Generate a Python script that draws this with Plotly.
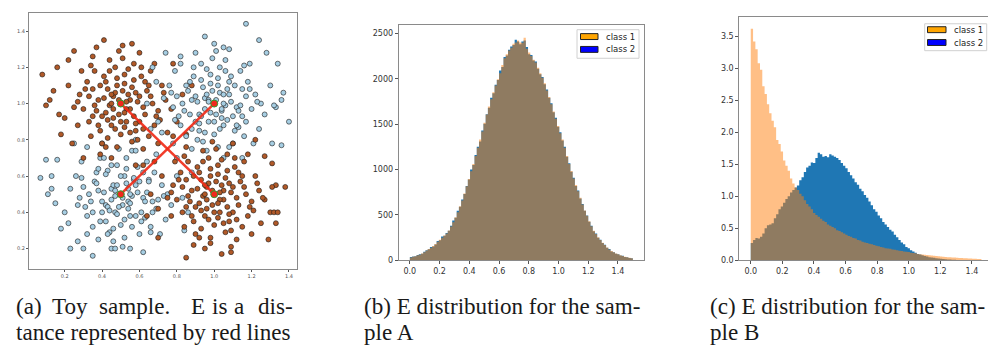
import numpy as np
import plotly.graph_objects as go

W, H = 996, 352

# ---------------- Panel (a): toy sample ----------------
class1_top_left = [
    (0.50,1.00),(0.46,1.04),(0.55,0.97),(0.42,0.95),(0.58,1.06),(0.48,1.10),(0.53,0.90),(0.38,1.02),(0.62,0.98),(0.45,0.88),
    (0.57,1.13),(0.35,1.08),(0.66,1.04),(0.50,0.83),(0.41,1.15),(0.60,0.90),(0.30,0.97),(0.70,0.96),(0.47,1.20),(0.54,1.05),
    (0.44,0.99),(0.52,1.16),(0.33,0.90),(0.63,1.12),(0.39,0.85),(0.68,0.88),(0.56,0.79),(0.28,1.05),(0.74,1.02),(0.49,0.94),
    (0.43,1.08),(0.59,1.01),(0.36,1.18),(0.65,0.82),(0.51,1.25),(0.27,0.88),(0.72,1.10),(0.40,0.78),(0.61,1.20),(0.46,0.92),
    (0.55,1.02),(0.32,1.12),(0.69,0.93),(0.48,0.76),(0.58,0.85),(0.25,0.98),(0.77,0.97),(0.44,1.24),(0.37,0.96),(0.64,1.07),
    (0.53,0.97),(0.41,1.03),(0.47,1.06),(0.57,0.93),(0.34,0.82),(0.80,0.90),(0.22,1.10),(0.62,0.75),(0.45,0.70),(0.35,1.26),
    (0.66,1.18),(0.52,0.87),(0.29,1.18),(0.75,0.84),(0.43,0.81),(0.60,1.28),(0.20,0.92),(0.83,1.05),(0.39,0.72),(0.70,0.78),
    (0.41,1.35),(0.37,1.31),(0.51,1.32),(0.56,1.33),(0.08,1.16),(0.10,0.99),(0.12,1.02),(0.17,0.94),(0.18,0.83),(0.25,1.29),
    (0.16,1.20),(0.24,0.78),(0.30,0.70),(0.85,0.83),(0.78,1.22),(0.68,0.68),(0.58,0.66),(0.14,1.07),(0.22,1.24),(0.88,1.10),
    (0.49,1.02),(0.52,0.95),(0.45,1.00),(0.56,1.09),(0.43,0.91),(0.60,1.04),(0.39,1.10),(0.51,1.07),(0.47,0.86),(0.63,0.94),
    (0.36,0.99),(0.54,1.19),(0.42,1.12),(0.58,0.89),(0.33,1.04),(0.67,1.00),(0.48,1.14),(0.55,0.84),(0.40,0.93),(0.61,1.15),
    (0.46,0.97),(0.53,1.01),(0.38,0.88),(0.65,1.10),(0.31,1.08),(0.71,0.91),(0.50,0.90),(0.44,1.18),(0.57,1.22),(0.35,0.93),
    (0.62,0.86),(0.49,1.29),(0.27,1.01),(0.73,1.06),(0.42,0.76),(0.59,0.80),(0.34,1.21),(0.68,1.22),(0.52,1.11),(0.45,1.05),
]
class1_bottom_right = [
    (1.00,0.50),(0.96,0.54),(1.05,0.47),(0.92,0.45),(1.08,0.56),(0.98,0.60),(1.03,0.40),(0.88,0.52),(1.12,0.48),(0.95,0.38),
    (1.07,0.63),(0.85,0.58),(1.16,0.54),(1.00,0.33),(0.91,0.65),(1.10,0.40),(0.80,0.47),(1.20,0.46),(0.97,0.70),(1.04,0.55),
    (0.94,0.49),(1.02,0.66),(0.83,0.40),(1.13,0.62),(0.89,0.35),(1.18,0.38),(1.06,0.29),(0.78,0.55),(1.24,0.52),(0.99,0.44),
    (0.93,0.58),(1.09,0.51),(0.86,0.68),(1.15,0.32),(1.01,0.75),(0.77,0.38),(1.22,0.60),(0.90,0.28),(1.11,0.70),(0.96,0.42),
    (1.05,0.52),(0.82,0.62),(1.19,0.43),(0.98,0.26),(1.08,0.35),(0.75,0.48),(1.27,0.47),(0.94,0.74),(0.87,0.46),(1.14,0.57),
    (1.03,0.47),(0.91,0.53),(0.97,0.56),(1.07,0.43),(0.84,0.32),(1.30,0.40),(0.72,0.60),(1.12,0.25),(0.95,0.20),(0.85,0.76),
    (1.16,0.68),(1.02,0.37),(0.79,0.68),(1.25,0.34),(0.93,0.31),(1.10,0.78),(0.70,0.42),(1.33,0.55),(0.89,0.22),(1.20,0.28),
    (0.85,0.15),(1.09,0.18),(0.98,0.23),(1.38,0.54),(1.33,0.34),(1.32,0.40),(1.34,0.40),(1.31,0.54),(1.27,0.71),(1.31,0.67),
    (1.26,0.48),(1.09,0.21),(0.66,0.50),(0.64,0.38),(0.70,0.26),(1.22,0.80),(0.78,0.82),(1.04,0.17),(1.29,0.25),(0.62,0.66),
    (0.99,0.52),(1.02,0.45),(0.95,0.50),(1.06,0.59),(0.93,0.41),(1.10,0.54),(0.89,0.60),(1.01,0.57),(0.97,0.36),(1.13,0.44),
    (0.86,0.49),(1.04,0.69),(0.92,0.62),(1.08,0.39),(0.83,0.54),(1.17,0.50),(0.98,0.64),(1.05,0.34),(0.90,0.43),(1.11,0.65),
    (0.96,0.47),(1.03,0.51),(0.88,0.38),(1.15,0.60),(0.81,0.58),(1.21,0.41),(1.00,0.40),(0.94,0.68),(1.07,0.72),(0.85,0.43),
    (1.12,0.36),(0.99,0.79),(0.77,0.51),(1.23,0.56),(0.92,0.26),(1.09,0.30),(0.84,0.71),(1.18,0.72),(1.02,0.61),(0.95,0.55),
]
class2_top_right = [
    (1.00,1.00),(1.04,0.96),(0.95,1.03),(1.08,1.05),(0.92,0.94),(1.02,1.10),(0.97,0.90),(1.12,0.98),(0.88,1.02),(1.05,0.88),
    (0.93,1.13),(1.15,1.08),(0.84,0.96),(1.00,0.83),(1.09,1.15),(0.90,0.90),(1.20,0.97),(0.80,1.04),(1.03,1.20),(0.96,1.05),
    (1.06,0.99),(0.98,1.16),(1.17,0.90),(0.87,1.12),(1.11,0.85),(0.82,0.88),(0.94,0.79),(1.22,1.05),(0.78,0.98),(1.01,0.94),
    (1.07,1.08),(0.91,1.01),(1.14,1.18),(0.85,0.82),(1.25,1.00),(0.99,1.25),(0.76,1.10),(1.10,0.78),(0.89,1.20),(1.04,0.92),
    (0.95,0.97),(1.18,1.12),(0.81,0.93),(1.02,0.76),(0.92,0.85),(1.27,0.94),(0.73,1.03),(1.06,1.24),(1.13,0.96),(0.86,1.07),
    (0.97,1.02),(1.09,1.01),(1.03,1.06),(0.93,0.93),(1.16,0.82),(0.70,0.90),(1.30,1.10),(0.88,0.75),(1.05,0.70),(1.19,1.22),
    (0.79,1.18),(1.13,0.87),(0.82,1.26),(1.24,0.86),(0.96,0.74),(1.08,1.30),(0.72,0.84),(1.33,0.98),(0.90,1.28),(1.21,0.78),
    (1.17,1.44),(1.00,1.33),(1.05,1.31),(1.34,1.22),(1.37,1.06),(1.36,1.02),(1.32,0.99),(1.36,0.77),(1.31,0.78),(0.67,1.20),
    (0.64,1.00),(0.66,0.86),(1.28,1.28),(0.95,1.37),(1.24,1.35),(0.74,1.28),(1.40,0.90),(0.69,1.12),(0.80,0.70),(1.15,0.70),
    (1.01,1.02),(0.98,0.95),(1.05,1.00),(0.94,1.09),(1.07,0.91),(0.90,1.04),(1.11,1.10),(0.99,1.07),(1.03,0.86),(0.87,0.94),
    (1.14,0.99),(0.96,1.19),(1.08,1.12),(0.92,0.89),(1.17,1.04),(0.83,1.00),(1.02,1.14),(0.95,0.84),(1.10,0.93),(0.89,1.15),
    (1.04,0.97),(0.97,1.01),(1.12,0.88),(0.85,1.10),(1.19,1.08),(0.79,0.91),(1.00,0.90),(1.06,1.18),(0.93,1.22),(1.15,0.93),
    (0.88,0.86),(1.01,1.29),(1.23,1.01),(0.77,1.06),(1.08,0.76),(0.91,0.80),(1.16,1.21),(0.82,1.22),(0.98,1.11),(1.05,1.05),
]
class2_bottom_left = [
    (0.50,0.50),(0.54,0.46),(0.45,0.53),(0.58,0.55),(0.42,0.44),(0.52,0.60),(0.47,0.40),(0.62,0.48),(0.38,0.52),(0.55,0.38),
    (0.43,0.63),(0.65,0.58),(0.34,0.46),(0.50,0.33),(0.59,0.65),(0.40,0.40),(0.70,0.47),(0.30,0.54),(0.53,0.70),(0.46,0.55),
    (0.56,0.49),(0.48,0.66),(0.67,0.40),(0.37,0.62),(0.61,0.35),(0.32,0.38),(0.44,0.29),(0.72,0.55),(0.28,0.48),(0.51,0.44),
    (0.57,0.58),(0.41,0.51),(0.64,0.68),(0.35,0.32),(0.75,0.50),(0.49,0.75),(0.26,0.60),(0.60,0.28),(0.39,0.70),(0.54,0.42),
    (0.45,0.47),(0.68,0.62),(0.31,0.43),(0.52,0.26),(0.42,0.35),(0.77,0.44),(0.23,0.53),(0.56,0.74),(0.63,0.46),(0.36,0.57),
    (0.47,0.52),(0.59,0.51),(0.53,0.56),(0.43,0.43),(0.66,0.32),(0.20,0.40),(0.80,0.60),(0.38,0.25),(0.55,0.20),(0.69,0.72),
    (0.29,0.68),(0.63,0.37),(0.32,0.76),(0.74,0.36),(0.46,0.24),(0.58,0.80),(0.22,0.34),(0.83,0.48),(0.40,0.78),(0.71,0.28),
    (0.10,0.69),(0.16,0.69),(0.07,0.59),(0.13,0.53),(0.13,0.60),(0.18,0.31),(0.23,0.20),(0.27,0.24),(0.45,0.20),(0.47,0.20),
    (0.15,0.45),(0.30,0.20),(0.86,0.40),(0.88,0.62),(0.25,0.78),(0.62,0.18),(0.78,0.78),(0.11,0.50),(0.35,0.16),(0.84,0.30),
    (0.51,0.48),(0.48,0.55),(0.55,0.50),(0.44,0.41),(0.57,0.59),(0.40,0.46),(0.61,0.40),(0.49,0.43),(0.53,0.64),(0.37,0.56),
    (0.64,0.51),(0.46,0.31),(0.58,0.38),(0.42,0.61),(0.67,0.46),(0.33,0.50),(0.52,0.36),(0.45,0.66),(0.60,0.57),(0.39,0.35),
    (0.54,0.53),(0.47,0.49),(0.62,0.62),(0.35,0.40),(0.69,0.42),(0.29,0.59),(0.50,0.60),(0.56,0.32),(0.43,0.28),(0.65,0.57),
    (0.38,0.64),(0.51,0.21),(0.73,0.49),(0.27,0.44),(0.58,0.74),(0.41,0.70),(0.66,0.29),(0.32,0.28),(0.48,0.39),(0.55,0.45),
]
distance_line_1_x = [0.5, 1.0]
distance_line_1_y = [1.0, 0.5]
distance_line_2_x = [0.5, 1.0]
distance_line_2_y = [0.5, 1.0]
toy_ticks = [0.2, 0.4, 0.6, 0.8, 1.0, 1.2, 1.4]

# ---------------- Panel (b): sample A, counts ----------------
hist_b_start, hist_b_end = 0.0, 1.5
hist_b_class1 = [
    32, 40, 46, 55, 62, 75, 90, 108, 125, 140,
    158, 180, 205, 228, 250, 275, 295, 330, 372, 420,
    475, 530, 595, 660, 735, 815, 895, 980, 1060, 1150,
    1240, 1330, 1420, 1515, 1605, 1695, 1775, 1850, 1925, 1995,
    2060, 2150, 2225, 2270, 2310, 2340, 2385, 2400, 2420, 2400,
    2395, 2450, 2330, 2290, 2250, 2210, 2180, 2120, 2060, 2010,
    1950, 1870, 1800, 1720, 1640, 1560, 1480, 1400, 1330, 1240,
    1150, 1060, 985, 900, 830, 760, 690, 615, 550, 490,
    430, 375, 325, 290, 255, 225, 195, 168, 142, 120,
    102, 88, 76, 66, 56, 48, 40, 34, 28, 22,
]
hist_b_class2 = [
    36, 42, 44, 58, 66, 72, 95, 112, 122, 146,
    152, 176, 214, 222, 262, 270, 300, 325, 380, 440,
    470, 545, 590, 670, 730, 820, 890, 1000, 1050, 1160,
    1250, 1310, 1430, 1505, 1610, 1680, 1790, 1840, 1935, 1985,
    2090, 2130, 2240, 2255, 2320, 2355, 2370, 2430, 2410, 2380,
    2410, 2420, 2350, 2270, 2260, 2200, 2190, 2110, 2050, 2020,
    1940, 1880, 1790, 1730, 1630, 1570, 1470, 1410, 1320, 1250,
    1140, 1070, 975, 910, 820, 770, 680, 620, 545, 495,
    425, 380, 320, 295, 250, 228, 190, 172, 138, 124,
    98, 90, 74, 68, 54, 50, 38, 35, 27, 24,
]
hist_b_yticks = [0, 500, 1000, 1500, 2000, 2500]

# ---------------- Panel (c): sample B, density ----------------
hist_c_start, hist_c_end = 0.0, 1.46
hist_c_class1 = [
    3.62, 3.42, 3.30, 3.08, 2.98, 2.72, 2.60, 2.44, 2.30, 2.18,
    2.08, 1.88, 1.82, 1.70, 1.56, 1.48, 1.40, 1.28, 1.20, 1.14,
    1.10, 1.04, 1.00, 0.94, 0.88, 0.84, 0.80, 0.74, 0.71, 0.68,
    0.65, 0.62, 0.60, 0.56, 0.54, 0.52, 0.50, 0.47, 0.46, 0.44,
    0.42, 0.40, 0.38, 0.37, 0.35, 0.34, 0.32, 0.31, 0.29, 0.28,
    0.27, 0.26, 0.25, 0.24, 0.23, 0.22, 0.21, 0.20, 0.19, 0.185,
    0.18, 0.17, 0.165, 0.16, 0.15, 0.145, 0.14, 0.135, 0.13, 0.12,
    0.115, 0.11, 0.10, 0.095, 0.09, 0.088, 0.083, 0.08, 0.075, 0.072,
    0.068, 0.065, 0.06, 0.057, 0.054, 0.05, 0.048, 0.045, 0.043, 0.04,
    0.038, 0.036, 0.034, 0.032, 0.03, 0.028, 0.026, 0.025, 0.023, 0.02,
]
hist_c_class2 = [
    0.27, 0.32, 0.35, 0.34, 0.37, 0.42, 0.50, 0.55, 0.56, 0.58,
    0.66, 0.72, 0.80, 0.84, 0.90, 0.96, 1.00, 1.06, 1.10, 1.14,
    1.17, 1.25, 1.30, 1.38, 1.45, 1.48, 1.53, 1.52, 1.60, 1.68,
    1.66, 1.62, 1.63, 1.61, 1.66, 1.64, 1.62, 1.60, 1.57, 1.52,
    1.48, 1.44, 1.38, 1.33, 1.28, 1.22, 1.18, 1.12, 1.08, 1.02,
    0.98, 0.92, 0.86, 0.80, 0.76, 0.70, 0.66, 0.60, 0.56, 0.52,
    0.48, 0.45, 0.40, 0.36, 0.32, 0.28, 0.25, 0.21, 0.19, 0.16,
    0.14, 0.12, 0.10, 0.09, 0.08, 0.07, 0.06, 0.05, 0.045, 0.04,
    0.035, 0.03, 0.025, 0.02, 0.018, 0.015, 0.012, 0.01, 0.008, 0.006,
    0.005, 0.004, 0.003, 0.003, 0.002, 0.002, 0.001, 0.001, 0.0, 0.0,
]
hist_c_yticks = [0.0, 0.5, 1.0, 1.5, 2.0, 2.5, 3.0, 3.5]
hist_xticks = [0.0, 0.2, 0.4, 0.6, 0.8, 1.0, 1.2, 1.4]

legend_labels = ["class 1", "class 2"]
legend_colors = ["orange", "blue"]

captions = {
    "a1": ["(a)", "Toy", "sample.", "E", "is", "a", "dis-"],
    "a2": "tance represented by red lines",
    "b1": "(b) E distribution for the sam-",
    "b2": "ple A",
    "c1": "(c) E distribution for the sam-",
    "c2": "ple B",
}

# ---------------- helpers ----------------
def px(x):
    return x / W

def py(y):
    return 1 - y / H

def step_trace(values, start, end, fillcolor, xaxis, yaxis):
    edges = np.linspace(start, end, len(values) + 1)
    ys = list(values) + [values[-1]]
    return go.Scatter(x=edges, y=ys, mode="lines", line=dict(shape="hv", width=0, color=fillcolor),
                      fill="tozeroy", fillcolor=fillcolor, xaxis=xaxis, yaxis=yaxis,
                      showlegend=False, hoverinfo="skip")

fig = go.Figure()

BROWN = "#b15928"
LIGHTBLUE = "#a6cee3"
for pts, col in [(class2_bottom_left, LIGHTBLUE), (class1_top_left, BROWN),
                 (class2_top_right, LIGHTBLUE), (class1_bottom_right, BROWN)]:
    fig.add_trace(go.Scatter(
        x=[p[0] for p in pts], y=[p[1] for p in pts], mode="markers",
        marker=dict(size=5, color=col, line=dict(color="#1a1a1a", width=0.6)),
        xaxis="x", yaxis="y", showlegend=False))

for lx, ly in [(distance_line_1_x, distance_line_1_y), (distance_line_2_x, distance_line_2_y)]:
    fig.add_trace(go.Scatter(
        x=lx, y=ly, mode="lines+markers",
        line=dict(color="rgba(240,40,20,0.9)", width=2.6),
        marker=dict(size=7, color="#f0281e", line=dict(color="#2ca02c", width=1)),
        xaxis="x", yaxis="y", showlegend=False))

BLUE = "#1f77b4"
ORANGE_A = "rgba(255,127,14,0.5)"
fig.add_trace(step_trace(hist_b_class2, hist_b_start, hist_b_end, BLUE, "x2", "y2"))
fig.add_trace(step_trace(hist_b_class1, hist_b_start, hist_b_end, ORANGE_A, "x2", "y2"))
fig.add_trace(step_trace(hist_c_class2, hist_c_start, hist_c_end, BLUE, "x3", "y3"))
fig.add_trace(step_trace(hist_c_class1, hist_c_start, hist_c_end, ORANGE_A, "x3", "y3"))

FRAME = "#8a8a8a"
TICKFONT = dict(family="DejaVu Sans", size=8, color="#333")

def axis(domain, rng, ticks, fmt, anchor, font, ticklen=3):
    return dict(domain=domain, range=rng, tickvals=ticks, tickformat=fmt, anchor=anchor,
                showgrid=False, zeroline=False, showline=True, linecolor=FRAME, linewidth=1,
                mirror=True, ticks="outside", ticklen=ticklen, tickcolor="#555", tickwidth=0.8,
                tickfont=font, fixedrange=True)

small_font = dict(family="DejaVu Sans", size=5, color="#555")

fig.update_layout(
    width=W, height=H, margin=dict(l=0, r=0, t=0, b=0),
    paper_bgcolor="white", plot_bgcolor="white", showlegend=False,
    xaxis=axis([px(21), px(289)], [0.009, 1.443], toy_ticks, ".1f", "y", small_font, 2),
    yaxis=axis([py(265), py(5)], [0.086, 1.5], toy_ticks, ".1f", "x", small_font, 2),
    xaxis2=axis([px(390.7), px(636)], [-0.075, 1.575], hist_xticks, ".1f", "y2", TICKFONT),
    yaxis2=axis([py(256), py(17.3)], [0, 2591], hist_b_yticks, "d", "x2", TICKFONT),
    xaxis3=axis([px(731.3), px(983.3)], [-0.0725, 1.5225], hist_xticks, ".1f", "y3", TICKFONT),
    yaxis3=axis([py(256), py(9.3)], [0, 3.80], hist_c_yticks, ".1f", "x3", TICKFONT),
)

shapes = []
annotations = []

def legend(box, patch_x, patch_ys, text_x, text_ys):
    x0, y0, x1, y1 = box
    shapes.append(dict(type="rect", xref="paper", yref="paper", x0=px(x0), x1=px(x1), y0=py(y1), y1=py(y0),
                       line=dict(color="#d0d0d0", width=1), fillcolor="rgba(255,255,255,0.8)", layer="above"))
    for lab, col, (ya, yb), ty in zip(legend_labels, legend_colors, patch_ys, text_ys):
        shapes.append(dict(type="rect", xref="paper", yref="paper", x0=px(patch_x[0]), x1=px(patch_x[1]),
                           y0=py(yb), y1=py(ya), line=dict(color="#222", width=1), fillcolor=col, layer="above"))
        annotations.append(dict(text=lab, xref="paper", yref="paper", x=px(text_x), y=py(ty),
                                xanchor="left", yanchor="middle", showarrow=False,
                                font=dict(family="DejaVu Sans", size=8.5, color="#222")))

legend((569, 22, 631, 51), (572.5, 590), [(26, 32), (39, 45)], 596, [29, 42])
legend((916.7, 16, 978.7, 43.3), (919.5, 938), [(19, 25), (32, 38)], 944, [22, 35.5])

CAP = dict(family="Liberation Serif", size=23.1, color="#1a1a1a")
line1_mid, line2_mid = 302, 329

for word, x in zip(captions["a1"], [7, 43, 90, 182, 203, 225, 249]):
    annotations.append(dict(text=word, xref="paper", yref="paper", x=px(x), y=py(line1_mid),
                            xanchor="left", yanchor="middle", showarrow=False, font=CAP, borderpad=0))
for key, x, ymid in [("a2", 7, line2_mid), ("b1", 355, line1_mid), ("b2", 355, line2_mid),
                     ("c1", 701, line1_mid), ("c2", 701, line2_mid)]:
    annotations.append(dict(text=captions[key], xref="paper", yref="paper", x=px(x), y=py(ymid),
                            xanchor="left", yanchor="middle", showarrow=False, font=CAP, borderpad=0))

fig.update_layout(shapes=shapes, annotations=annotations)
fig.write_html("out.html")
